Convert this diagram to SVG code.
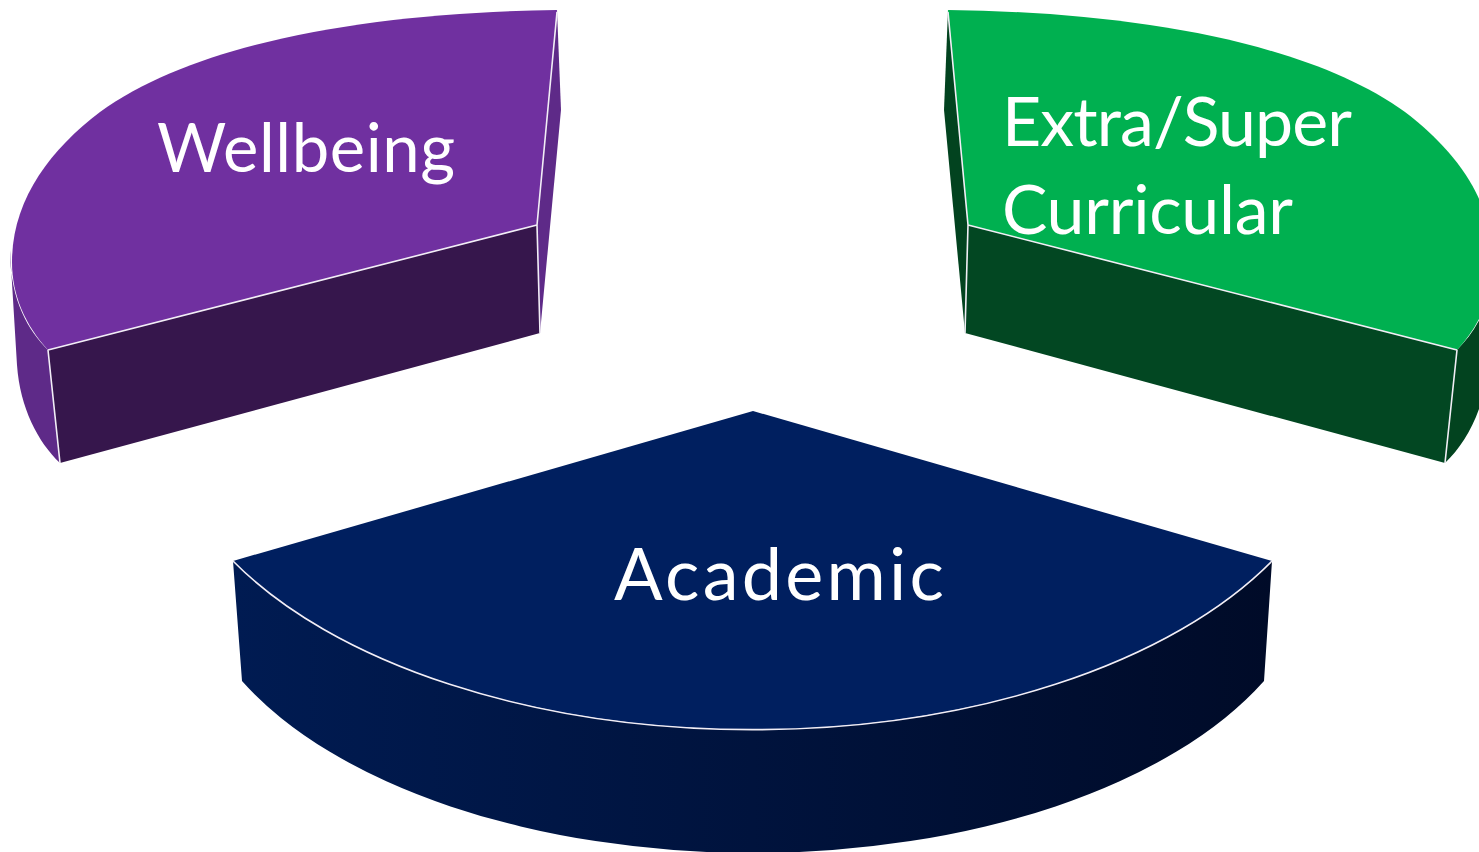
<svg xmlns="http://www.w3.org/2000/svg" width="1479" height="852" viewBox="0 0 1479 852">
<style>
.edge{fill:none;stroke:#f2eef6;stroke-width:1.6;stroke-linejoin:round}
.lbl{font-family:Lato,"Noto Sans","Open Sans",sans-serif;fill:#ffffff}
.p-top{fill:#7030A0}.p-front{fill:#36164C}.p-side{fill:#5E2A88}
.g-top{fill:#00B050}.g-front{fill:#024722}.g-side{fill:#02431F}
</style>
<defs>
<linearGradient id="blueSide" x1="233" y1="0" x2="1272" y2="0" gradientUnits="userSpaceOnUse">
<stop offset="0" stop-color="#001B52"/>
<stop offset="1" stop-color="#000B28"/>
</linearGradient>
</defs>
<rect width="1479" height="852" fill="#ffffff"/>
<g id="connectors"/>
<g id="node-wellbeing">
<path d="M10,250 C10,300 28,330 48,350 L60,463 C38,442 20,408 17,365 Z" class="p-side"/>
<path d="M557,10 L561,110 L540,333 L537,225 Z" class="p-side"/>
<path d="M48,350 L537,225 L540,333 L60,463 Z" class="p-front"/>
<path d="M557,10 L537,225 L48,350 C25,325 12,295 12,262 C12,200 50,150 100,112 C200,40 380,12 557,10 Z" class="p-top"/>
<path d="M48,350 L537,225 M557,12 L537,225 L540,333 M48,350 L60,463" class="edge"/>
<text class="lbl" x="157" y="172" font-size="67" textLength="298">Wellbeing</text>
</g>
<g id="node-extra">
<g transform="matrix(-1 0 0 1 1505 0)">
<path d="M10,250 C10,300 28,330 48,350 L60,463 C38,442 20,408 17,365 Z" class="g-side"/>
<path d="M557,10 L561,110 L540,333 L537,225 Z" class="g-side"/>
<path d="M48,350 L537,225 L540,333 L60,463 Z" class="g-front"/>
<path d="M557,10 L537,225 L48,350 C25,325 12,295 12,262 C12,200 50,150 100,112 C200,40 380,12 557,10 Z" class="g-top"/>
<path d="M48,350 L537,225 M557,12 L537,225 L540,333 M48,350 L60,463" class="edge"/>
</g>
<text class="lbl" x="1002" y="146" font-size="68" textLength="350">Extra/Super</text>
<text class="lbl" x="1002" y="234" font-size="68" textLength="291">Curricular</text>
</g>
<g id="node-academic">
<path d="M233,561 L242,681 A565,300 0 0 0 1264,681 L1272,561 A589,319 0 0 1 233,561 Z" fill="url(#blueSide)"/>
<path d="M753,411 L1272,561 A589,319 0 0 1 233,561 Z" fill="#001F5F"/>
<path d="M1272,561 A589,319 0 0 1 233,561" class="edge" stroke-width="2"/>
<text class="lbl" x="614" y="600" font-size="72" textLength="330">Academic</text>
</g>
</svg>
